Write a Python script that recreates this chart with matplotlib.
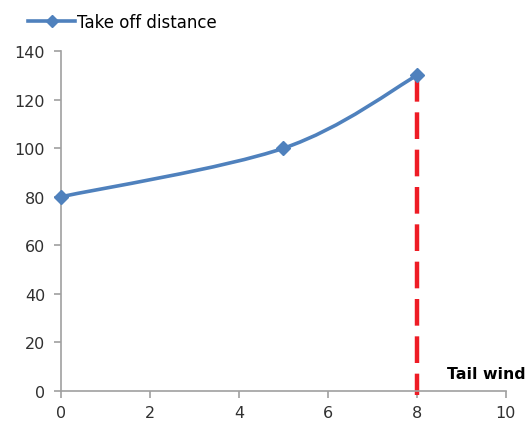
import matplotlib
matplotlib.use("Agg")
import matplotlib.pyplot as plt
import numpy as np
from matplotlib.path import Path
from matplotlib.patches import PathPatch
from matplotlib.lines import Line2D

wind = [0, 5, 8]
distance = [80, 100, 130]
xticks = [0, 2, 4, 6, 8, 10]
yticks = [0, 20, 40, 60, 80, 100, 120, 140]
marker_x = 8
series_label = "Take off distance"
axis_label = "Tail wind"

blue = "#4F81BD"
gray = "#A0A0A0"
txt = "#303030"

fig = plt.figure(figsize=(5.27, 4.31), dpi=100)
ax = fig.add_axes([0.1157, 0.0905, 0.8443, 0.7885])
ax.set_xlim(0, 10)
ax.set_ylim(0, 140)

# Smooth curve (Excel-style Bezier smoothing) through data points
pts = np.column_stack([wind, distance]).astype(float)
n = len(pts)
verts = [tuple(pts[0])]
codes = [Path.MOVETO]
for i in range(n - 1):
    p0 = pts[max(i - 1, 0)]
    p1 = pts[i]
    p2 = pts[i + 1]
    p3 = pts[min(i + 2, n - 1)]
    c1 = p1 + (p2 - p0) / 6.0
    c2 = p2 - (p3 - p1) / 6.0
    verts += [tuple(c1), tuple(c2), tuple(p2)]
    codes += [Path.CURVE4] * 3
ax.add_patch(PathPatch(Path(verts, codes), facecolor="none", edgecolor=blue,
                       lw=2.6, capstyle="round", zorder=3, clip_on=False))
ax.plot(wind, distance, linestyle="none", marker="D", markersize=7,
        color=blue, zorder=4, clip_on=False)

ax.plot([marker_x, marker_x], [distance[-1], -1.5], color="#EE1C25", lw=3.2,
        linestyle=(0, (6.0, 2.4)), zorder=2, clip_on=False,
        solid_capstyle="butt", dash_capstyle="butt")

ax.set_xticks(xticks)
ax.set_yticks(yticks)
for s in ["top", "right"]:
    ax.spines[s].set_visible(False)
for s in ["left", "bottom"]:
    ax.spines[s].set_color(gray)
    ax.spines[s].set_linewidth(1.2)
ax.tick_params(axis="both", colors=gray, labelcolor=txt, labelsize=11.5,
               direction="out", length=5, width=1.2)
ax.tick_params(axis="y", pad=6.5)
ax.tick_params(axis="x", pad=5)

ax.text(8.68, 4.3, axis_label, fontsize=11.3, fontweight="bold", color="black",
        ha="left", va="bottom", clip_on=False)

handle = Line2D([], [], color=blue, lw=2.6, marker="D", markersize=6)
fig.legend([handle], [series_label], loc="upper left",
           bbox_to_anchor=(0.025, 1.003), frameon=False, fontsize=12,
           handlelength=2.8, handletextpad=0.1, labelcolor="black")

fig.savefig("out.png", dpi=100)
